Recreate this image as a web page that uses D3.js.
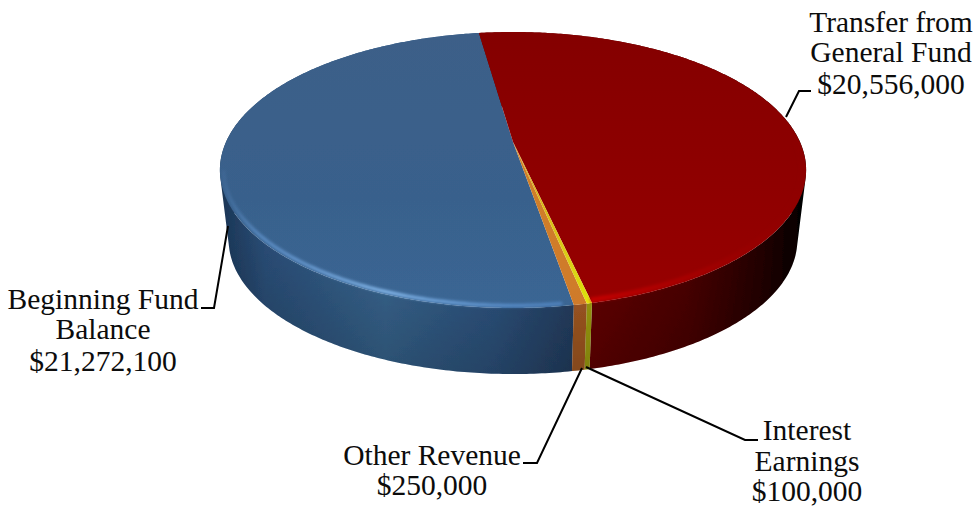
<!DOCTYPE html>
<html><head><meta charset="utf-8">
<script src="https://cdn.jsdelivr.net/npm/d3@7/dist/d3.min.js"></script>
<style>html,body{margin:0;padding:0;background:#fff}svg{display:block}</style>
</head><body><svg id="c" width="977" height="506"></svg>
<script>
const categories = ["Transfer from General Fund","Interest Earnings","Other Revenue","Beginning Fund Balance"];
const values = [20556000,100000,250000,21272100];
const labelLines = [["Transfer from","General Fund"],["Interest","Earnings"],["Other Revenue"],["Beginning Fund","Balance"]];

const W=977,H=506;
const cx=513,cy=142,a=287,b=132.3,p=0.203,shrink=0.97,depth=71;
const svg=d3.select("#c");
const defs=svg.append("defs");
function grad(id,x1,y1,x2,y2,stops){
  const g=defs.append("linearGradient").attr("id",id).attr("gradientUnits","userSpaceOnUse")
    .attr("x1",x1).attr("y1",y1).attr("x2",x2).attr("y2",y2);
  stops.forEach(s=>g.append("stop").attr("offset",s[0]).attr("stop-color",s[1]).attr("stop-opacity",s[2]===undefined?1:s[2]));
}
grad("wall0",590,0,806,0,[[0,"#660000"],[.45,"#4c0000"],[.8,"#220000"],[1,"#000000"]]);
grad("wall1",585,0,595,0,[[0,"#a3a312"],[1,"#a3a312"]]);
grad("wall2",570,0,590,0,[[0,"#a85c24"],[1,"#a85c24"]]);
grad("wall3",222,0,585,0,[[0,"#1b3656"],[.12,"#2a4d76"],[.45,"#386690"],[.75,"#2e5480"],[1,"#233c5e"]]);
grad("top0",0,32,0,310,[[0,"#840000"],[1,"#980000"]]);
grad("top1",0,140,0,310,[[0,"#d8a020"],[.9,"#dcdc10"],[1,"#e8e800"]]);
grad("top2",0,140,0,310,[[0,"#d08028"],[1,"#cf7a2a"]]);
grad("top3",0,32,0,310,[[0,"#3c5f88"],[.6,"#39618c"],[1,"#3a6694"]]);
grad("shade",0,230,0,375,[[0,"#000",0],[1,"#000",.22]]);
grad("rimBlue",222,0,585,0,[[0,"#5f90c8",.15],[.1,"#6a9fdc",.7],[.45,"#8cc0f4",1],[.8,"#5f97d8",.8],[1,"#5a8fd0",.7]]);
grad("rimRed",590,0,806,0,[[0,"#d00000",.8],[.5,"#b00000",.55],[1,"#900000",0]]);
const soft=defs.append("filter").attr("id","soft").attr("x","-5%").attr("y","-5%").attr("width","110%").attr("height","110%");
soft.append("feGaussianBlur").attr("stdDeviation",.6);
const blur=defs.append("filter").attr("id","blur").attr("x","-5%").attr("y","-5%").attr("width","110%").attr("height","110%");
blur.append("feGaussianBlur").attr("stdDeviation",1.5);

const pie=d3.pie().sort(null).startAngle(-8.2*Math.PI/180).endAngle((360-8.2)*Math.PI/180);
const arcs=pie(values);
function proj(t,r=1){
  const u=r*Math.sin(t),v=-r*Math.cos(t),w=1-p*v;
  return [cx+a*u/w,cy+b*v/w];
}
function low(pt){return [cx+shrink*(pt[0]-cx),cy+depth+shrink*(pt[1]-cy)];}
function arcPts(d,r=1){
  const n=Math.max(4,Math.ceil((d.endAngle-d.startAngle)*90));
  return d3.range(n+1).map(i=>proj(d.startAngle+(d.endAngle-d.startAngle)*i/n,r));
}
const line=d3.line().curve(d3.curveLinear);
const pieG=svg.append("g").attr("filter","url(#soft)");

const wallPath=d=>{
  const t=arcPts(d),o=t.map(low);
  return d3.range(t.length-1).map(i=>{
    const hull=d3.polygonHull([t[i],t[i+1],o[i+1],o[i]]);
    return hull?line(hull)+"Z":"";
  }).join("");
};
const drawOrder=[3,0,2,1];
pieG.selectAll("path.wall").data(drawOrder).join("path").attr("class","wall")
  .attr("d",i=>wallPath(arcs[i])).attr("fill",i=>`url(#wall${i})`);
pieG.selectAll("path.shade").data(drawOrder).join("path").attr("class","shade")
  .attr("d",i=>wallPath(arcs[i])).attr("fill","url(#shade)");
pieG.selectAll("path.top").data(drawOrder).join("path").attr("class","top")
  .attr("d",i=>line([[cx,cy]].concat(arcPts(arcs[i])))+"Z").attr("fill",i=>`url(#top${i})`);

const nearArc=(d,from,to)=>({startAngle:Math.max(d.startAngle,from),endAngle:Math.min(d.endAngle,to)});
const rad=Math.PI/180;
const rimG=svg.append("g").attr("fill","none").attr("filter","url(#blur)");
rimG.append("path").attr("d",line(arcPts(nearArc(arcs[3],172*rad,258*rad),.988)))
  .attr("stroke","url(#rimBlue)").attr("stroke-width",3);
rimG.append("path").attr("d",line(arcPts(nearArc(arcs[0],90*rad,168*rad),.985)))
  .attr("stroke","url(#rimRed)").attr("stroke-width",5);

const leaders=[
  [[786,117],[799,91],[811,91]],
  [[586,367],[745,440],[758,440]],
  [[582,368],[537,463],[523,463]],
  [[228,226],[214,308],[201,308]]
];
svg.append("g").attr("fill","none").attr("stroke","#000").attr("stroke-width",2)
  .selectAll("path").data(leaders).join("path").attr("d",d=>line(d));

const money=d3.format("$,");
const labelPos=[
  {x:891,ys:[32,62,94]},
  {x:807,ys:[440,471,501]},
  {x:432,ys:[465,495]},
  {x:103,ys:[309,339,371]}
];
const lg=svg.append("g").attr("font-family","'Liberation Serif',serif").attr("font-size",29.5)
  .attr("fill","#0c0c0c").attr("text-anchor","middle");
labelLines.forEach((ls,i)=>{
  ls.concat([money(values[i])]).forEach((t,j)=>{
    lg.append("text").attr("x",labelPos[i].x).attr("y",labelPos[i].ys[j]).text(t);
  });
});
</script></body></html>
